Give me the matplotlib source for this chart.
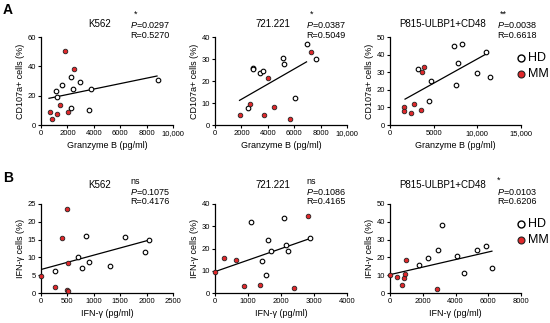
import numpy as np
import matplotlib
matplotlib.use("Agg")
import matplotlib.pyplot as plt
from matplotlib.lines import Line2D

plt.rcParams['font.family'] = ['Liberation Sans', 'DejaVu Sans']
plt.rcParams['mathtext.fontset'] = 'custom'
plt.rcParams['mathtext.it'] = 'Liberation Sans:italic'
plt.rcParams['mathtext.rm'] = 'Liberation Sans'

# ---- data ----
# A: CD107a vs Granzyme B
a1_hd_x = [1136, 1187, 1591, 2298, 2399, 2955, 2273, 3611, 3813, 8889]
a1_hd_y = [23.2, 19.3, 27.3, 32.7, 24.8, 29.3, 11.6, 10.2, 24.5, 30.5]
a1_mm_x = [1843, 2475, 1465, 707, 859, 1187, 2045]
a1_mm_y = [50.7, 38.2, 13.6, 9.1, 4.1, 7.7, 9.1]
a1_fit_x = [606, 8788]
a1_fit_y = [18.2, 33.4]

a2_hd_x = [2889, 2889, 3442, 3618, 2487, 5176, 5201, 6080, 6985, 7638]
a2_hd_y = [26.0, 25.4, 23.5, 24.5, 7.8, 30.6, 27.9, 12.5, 36.8, 30.2]
a2_mm_x = [1859, 2663, 4045, 3719, 4497, 5678, 7286]
a2_mm_y = [4.4, 9.7, 21.4, 4.5, 8.2, 2.9, 33.1]
a2_fit_x = [1859, 6935]
a2_fit_y = [11.2, 28.7]

a3_hd_x = [3253, 4669, 4439, 7348, 8228, 7807, 7577, 9912, 10984, 11443]
a3_hd_y = [32.0, 25.2, 13.5, 44.7, 45.9, 35.3, 22.9, 29.5, 41.7, 27.3]
a3_mm_x = [3865, 3674, 1646, 1646, 2794, 2373, 3559]
a3_mm_y = [32.7, 29.9, 10.5, 7.9, 12.0, 7.0, 8.5]
a3_fit_x = [1722, 11251]
a3_fit_y = [14.7, 41.0]

# B: IFN-gamma cells vs IFN-gamma
b1_hd_x = [259, 703, 772, 854, 918, 1316, 1589, 1975, 2051]
b1_hd_y = [6.3, 10.0, 7.0, 16.1, 8.6, 7.6, 15.6, 11.4, 14.9]
b1_mm_x = [0, 266, 494, 392, 506, 494, 519]
b1_mm_y = [4.9, 1.8, 23.7, 15.5, 8.3, 0.9, 0.6]
b1_fit_x = [0, 2057]
b1_fit_y = [6.6, 14.9]

b2_hd_x = [1078, 1602, 1693, 1421, 1542, 2106, 2166, 2207, 2882]
b2_hd_y = [32.0, 23.9, 19.1, 14.3, 8.3, 33.7, 21.7, 19.1, 24.8]
b2_mm_x = [0, 272, 645, 887, 1350, 2408, 2821]
b2_mm_y = [9.3, 15.9, 15.0, 3.0, 3.8, 2.3, 34.7]
b2_fit_x = [0, 2882]
b2_fit_y = [9.6, 24.5]

b3_hd_x = [1776, 2327, 2918, 3163, 4122, 4490, 5286, 5857, 6224]
b3_hd_y = [16.0, 19.5, 24.2, 38.2, 20.9, 11.5, 24.1, 26.3, 13.9]
b3_mm_x = [0, 449, 878, 735, 939, 980, 2898]
b3_mm_y = [10.3, 9.2, 8.3, 4.5, 10.5, 18.4, 2.1]
b3_fit_x = [0, 6224]
b3_fit_y = [10.3, 23.5]

titles = ["K562", "721.221", "P815-ULBP1+CD48"]
sig_a = ["*", "*", "**"]
p_a = ["0.0297", "0.0387", "0.0038"]
r_a = ["0.5270", "0.5049", "0.6618"]
sig_b = ["ns", "ns", "*"]
p_b = ["0.1075", "0.1086", "0.0103"]
r_b = ["0.4176", "0.4165", "0.6206"]

xt_a = [[0, 2000, 4000, 6000, 8000, 10000]] * 2 + [[0, 5000, 10000, 15000]]
xtl_a = [["0", "2000", "4000", "6000", "8000", "10,000"]] * 2 + [["0", "5000", "10,000", "15,000"]]
yt_a = [[0, 20, 40, 60], [0, 10, 20, 30, 40], [0, 10, 20, 30, 40, 50]]
xt_b = [[0, 500, 1000, 1500, 2000, 2500], [0, 1000, 2000, 3000, 4000], [0, 2000, 4000, 6000, 8000]]
yt_b = [[0, 5, 10, 15, 20, 25], [0, 10, 20, 30, 40], [0, 10, 20, 30, 40, 50]]

W, H = 550, 323
fig = plt.figure(figsize=(5.5, 3.23), dpi=100)


def fx(x):
    return x / W


def fy(y):
    return 1 - y / H


red = "#e0282b"
lefts = [41, 215, 390]
widths = [132, 132, 131]


def panel(col, top, bottom, hx, hy, mx, my, fxs, fys, xt, xtl, yt, xlabel, ylabel):
    ax = fig.add_axes([fx(lefts[col]), fy(bottom), widths[col] / W, (bottom - top) / H])
    ax.plot(fxs, fys, color="black", lw=0.9, zorder=2)
    ax.scatter(hx, hy, s=11, facecolor="white", edgecolor="black", linewidth=0.8, zorder=3, clip_on=False)
    ax.scatter(mx, my, s=11, facecolor=red, edgecolor="#222222", linewidth=0.6, zorder=3, clip_on=False)
    ax.set_xlim(xt[0], xt[-1])
    ax.set_ylim(yt[0], yt[-1])
    ax.set_xticks(xt)
    ax.set_xticklabels(xtl)
    ax.set_yticks(yt)
    for s in ["top", "right"]:
        ax.spines[s].set_visible(False)
    for s in ["left", "bottom"]:
        ax.spines[s].set_linewidth(0.9)
    ax.tick_params(labelsize=5.5, length=2, width=0.8, pad=1.5)
    ax.set_xlabel(xlabel, fontsize=6.5, labelpad=3)
    ax.set_ylabel(ylabel, fontsize=6.5, labelpad=2)
    return ax


a_sets = [
    (a1_hd_x, a1_hd_y, a1_mm_x, a1_mm_y, a1_fit_x, a1_fit_y),
    (a2_hd_x, a2_hd_y, a2_mm_x, a2_mm_y, a2_fit_x, a2_fit_y),
    (a3_hd_x, a3_hd_y, a3_mm_x, a3_mm_y, a3_fit_x, a3_fit_y),
]
b_sets = [
    (b1_hd_x, b1_hd_y, b1_mm_x, b1_mm_y, b1_fit_x, b1_fit_y),
    (b2_hd_x, b2_hd_y, b2_mm_x, b2_mm_y, b2_fit_x, b2_fit_y),
    (b3_hd_x, b3_hd_y, b3_mm_x, b3_mm_y, b3_fit_x, b3_fit_y),
]

title_x = [100, 273, 443]
stat_x = [130, 306, 497]

axes_a = []
for i in range(3):
    axes_a.append(panel(i, 37, 125, *a_sets[i], xt_a[i], xtl_a[i], yt_a[i],
                        "Granzyme B (pg/ml)", "CD107a+ cells (%)"))
    fig.text(fx(title_x[i]), fy(24), titles[i], fontsize=7, ha="center", va="center")
    fig.text(fx(stat_x[i] + 6), fy(14), sig_a[i], fontsize=6.5, ha="center", va="center")
    fig.text(fx(stat_x[i]), fy(25), r"$P$=" + p_a[i], fontsize=6.5, ha="left", va="center")
    fig.text(fx(stat_x[i]), fy(35), "R=" + r_a[i], fontsize=6.5, ha="left", va="center")

for i in range(3):
    panel(i, 204, 293, *b_sets[i], xt_b[i], [str(v) for v in xt_b[i]], yt_b[i],
          "IFN-γ (pg/ml)", "IFN-γ cells (%)")
    fig.text(fx(title_x[i]), fy(185), titles[i], fontsize=7, ha="center", va="center")
    if sig_b[i] == "ns":
        fig.text(fx(stat_x[i]), fy(182), sig_b[i], fontsize=6.5, ha="left", va="center")
    else:
        fig.text(fx(stat_x[i] + 2), fy(180), sig_b[i], fontsize=6.5, ha="center", va="center")
    fig.text(fx(stat_x[i]), fy(192), r"$P$=" + p_b[i], fontsize=6.5, ha="left", va="center")
    fig.text(fx(stat_x[i]), fy(202), "R=" + r_b[i], fontsize=6.5, ha="left", va="center")

fig.text(fx(3), fy(10), "A", fontsize=10, fontweight="bold", ha="left", va="center")
fig.text(fx(3), fy(178), "B", fontsize=10, fontweight="bold", ha="left", va="center")

# legends on the right panels
for ly in (58, 224):
    fig.lines.append(Line2D([fx(521)], [fy(ly)], transform=fig.transFigure, marker="o",
                            ms=5, mfc="white", mec="black", mew=1.0, ls=""))
    fig.lines.append(Line2D([fx(521)], [fy(ly + 16)], transform=fig.transFigure, marker="o",
                            ms=5, mfc=red, mec="#222222", mew=0.8, ls=""))
    fig.text(fx(528), fy(ly), "HD", fontsize=9, ha="left", va="center")
    fig.text(fx(528), fy(ly + 16), "MM", fontsize=9, ha="left", va="center")

fig.savefig("out.png", dpi=100)
